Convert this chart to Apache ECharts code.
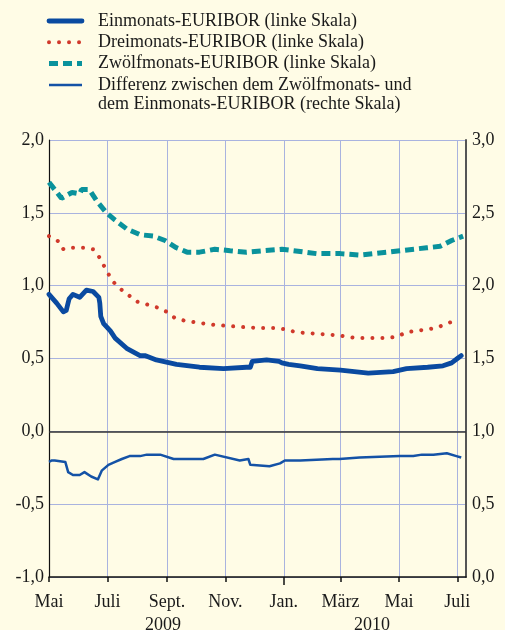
<!DOCTYPE html>
<html>
<head>
<meta charset="utf-8">
<script src="https://cdn.jsdelivr.net/npm/echarts@6/dist/echarts.min.js"></script>
<style>
  html, body { margin: 0; padding: 0; background: #fffce6; }
  #chart { width: 505px; height: 630px; }
</style>
</head>
<body>
<div id="chart"></div>
<script>
// x values are days counted from 1 May 2009
var monthTicks = [0, 61, 123, 184, 245, 304, 365, 426];
var monthLabels = ['Mai', 'Juli', 'Sept.', 'Nov.', 'Jan.', 'März', 'Mai', 'Juli'];
var yearTicks = [119, 337];
var yearLabels = ['2009', '2010'];

var days1m = [0, 8, 15, 18, 21, 25, 32, 39, 46, 52, 53, 54, 57, 64, 69, 81, 95, 100, 112, 133, 157, 182, 206, 210, 212, 227, 240, 243, 250, 262, 280, 304, 333, 359, 373, 395, 411, 420, 426, 430];
var euribor1m = [0.94, 0.88, 0.82, 0.83, 0.91, 0.94, 0.92, 0.97, 0.96, 0.92, 0.88, 0.79, 0.74, 0.69, 0.64, 0.57, 0.52, 0.52, 0.49, 0.46, 0.44, 0.43, 0.44, 0.44, 0.48, 0.49, 0.48, 0.47, 0.46, 0.45, 0.43, 0.42, 0.40, 0.41, 0.43, 0.44, 0.45, 0.47, 0.50, 0.52];

var days3m = [0, 11, 15, 25, 36, 46, 52, 57, 62, 68, 76, 84, 92, 103, 113, 123, 131, 141, 151, 173, 194, 216, 237, 247, 258, 279, 300, 321, 353, 363, 373, 394, 404, 415, 424];
var euribor3m = [1.34, 1.30, 1.25, 1.26, 1.26, 1.25, 1.20, 1.14, 1.08, 1.02, 0.97, 0.93, 0.89, 0.87, 0.85, 0.82, 0.78, 0.76, 0.75, 0.73, 0.72, 0.71, 0.71, 0.70, 0.68, 0.67, 0.66, 0.64, 0.64, 0.65, 0.68, 0.70, 0.71, 0.74, 0.76];

var days12m = [0, 13, 24, 32, 34, 42, 50, 60, 69, 81, 95, 109, 121, 133, 144, 157, 173, 189, 206, 243, 255, 279, 304, 324, 352, 366, 394, 408, 420, 432];
var euribor12m = [1.71, 1.60, 1.64, 1.63, 1.66, 1.66, 1.58, 1.50, 1.45, 1.39, 1.35, 1.34, 1.31, 1.26, 1.23, 1.23, 1.25, 1.24, 1.23, 1.25, 1.24, 1.22, 1.22, 1.21, 1.23, 1.24, 1.26, 1.27, 1.31, 1.34];

var daysDiff = [0, 3, 6, 17, 20, 25, 32, 37, 44, 51, 53, 55, 62, 69, 76, 84, 95, 102, 116, 130, 161, 173, 199, 208, 210, 230, 241, 246, 262, 296, 303, 324, 366, 380, 389, 401, 415, 425, 430];
var spread = [0.79, 0.80, 0.80, 0.79, 0.72, 0.70, 0.70, 0.72, 0.69, 0.67, 0.67, 0.73, 0.77, 0.79, 0.81, 0.83, 0.83, 0.84, 0.84, 0.81, 0.81, 0.84, 0.80, 0.81, 0.77, 0.76, 0.78, 0.80, 0.80, 0.81, 0.81, 0.82, 0.83, 0.83, 0.84, 0.84, 0.85, 0.83, 0.82];

var N1 = 'Einmonats-EURIBOR (linke Skala)';
var N3 = 'Dreimonats-EURIBOR (linke Skala)';
var N12 = 'Zwölfmonats-EURIBOR (linke Skala)';
var ND = 'Differenz zwischen dem Zwölfmonats- und\ndem Einmonats-EURIBOR (rechte Skala)';

var FONT = 'Liberation Serif';
var TXT = '#1a1a1a';
var GRIDC = '#a9b3df';

function pairs(days, vals) {
  return days.map(function (d, i) { return [d, vals[i]]; });
}
function comma(v) { return v.toFixed(1).replace('.', ','); }

var chart = echarts.init(document.getElementById('chart'), null, { renderer: 'canvas' });

chart.setOption({
  backgroundColor: '#fffce6',
  animation: false,
  grid: { left: 49, right: 39, top: 140, bottom: 53, containLabel: false, outerBoundsMode: 'none' },
  legend: {
    orient: 'vertical', left: 46.5, top: 10.5, padding: 0,
    itemWidth: 33, itemHeight: 14, itemGap: 0.3, selectedMode: false,
    data: [N1, N3, N12, ND],
    itemStyle: { opacity: 0 },
    lineStyle: { width: 'inherit' },
    formatter: function (name) { return name.split('\n')[0]; },
    textStyle: { fontFamily: FONT, fontSize: 18, lineHeight: 21, color: TXT, padding: [0, 0, 0, 11] }
  },
  // second line of the fourth legend entry
  graphic: [{
    type: 'text', left: 98, top: 95,
    style: { text: ND.split('\n')[1], font: '18px "Liberation Serif"', fill: TXT }
  }],
  xAxis: [{
    type: 'value', min: 0, max: 435, position: 'bottom',
    axisLine: { onZero: false, lineStyle: { color: '#111', width: 1.5 } },
    axisTick: { customValues: monthTicks, length: 5, lineStyle: { color: '#111', width: 1.5 } },
    axisLabel: {
      customValues: monthTicks, margin: 16,
      fontFamily: FONT, fontSize: 18, color: TXT,
      formatter: function (v) { return monthLabels[monthTicks.indexOf(v)]; }
    },
    splitLine: { show: true, lineStyle: { color: GRIDC, width: 1 } }
  }, {
    type: 'value', min: 0, max: 435, position: 'bottom',
    axisLine: { show: false, onZero: false },
    axisTick: { customValues: [245], length: 8, lineStyle: { color: '#111', width: 1.5 } },
    axisLabel: {
      customValues: yearTicks, margin: 39,
      fontFamily: FONT, fontSize: 18, color: TXT,
      formatter: function (v) { return yearLabels[yearTicks.indexOf(v)]; }
    },
    splitLine: { show: false }
  }],
  yAxis: [{
    type: 'value', min: -1, max: 2, interval: 0.5, position: 'left',
    axisLine: { show: true, onZero: false, lineStyle: { color: '#111', width: 1.2 } },
    axisTick: { show: false },
    axisLabel: { margin: 5, fontFamily: FONT, fontSize: 18, color: TXT, formatter: comma },
    splitLine: { show: true, lineStyle: { color: GRIDC, width: 1 } }
  }, {
    type: 'value', min: 0, max: 3, interval: 0.5, position: 'right',
    axisLine: { show: true, onZero: false, lineStyle: { color: '#555', width: 2 } },
    axisTick: { show: false },
    axisLabel: { margin: 6, fontFamily: FONT, fontSize: 18, color: TXT, formatter: comma },
    splitLine: { show: false }
  }],
  series: [{
    name: N1, type: 'line', yAxisIndex: 0, symbol: 'none', z: 5,
    data: pairs(days1m, euribor1m),
    itemStyle: { color: '#0a4aa0' },
    lineStyle: { color: '#0a4aa0', width: 4.8, cap: 'round', join: 'round' },
    markLine: {
      silent: true, symbol: 'none', label: { show: false },
      lineStyle: { color: '#333', width: 1.5, type: 'solid' },
      data: [{ yAxis: 0 }]
    }
  }, {
    name: N3, type: 'line', yAxisIndex: 0, symbol: 'none', z: 4,
    data: pairs(days3m, euribor3m),
    itemStyle: { color: '#d0392b' },
    lineStyle: { color: '#d0392b', width: 4, type: [0.01, 10], cap: 'round' }
  }, {
    name: N12, type: 'line', yAxisIndex: 0, symbol: 'none', z: 4,
    data: pairs(days12m, euribor12m),
    itemStyle: { color: '#0a929c' },
    lineStyle: { color: '#0a929c', width: 5, type: [9, 5] }
  }, {
    name: ND, type: 'line', yAxisIndex: 1, symbol: 'none', z: 4,
    data: pairs(daysDiff, spread),
    itemStyle: { color: '#1452a6' },
    lineStyle: { color: '#1452a6', width: 2.5, join: 'round' }
  }]
});
</script>
</body>
</html>
